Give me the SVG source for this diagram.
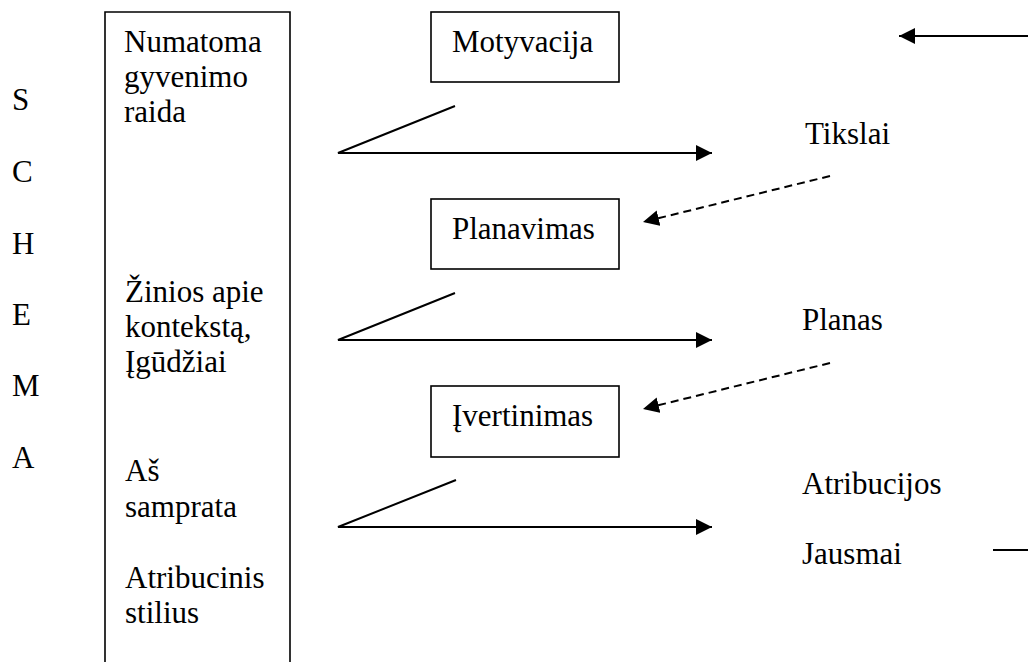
<svg xmlns="http://www.w3.org/2000/svg" width="1028" height="662" viewBox="0 0 1028 662">
<style>
.box{fill:#fff;stroke:#000;stroke-width:1.6}
.ln{fill:none;stroke:#000;stroke-width:2}
.dash{fill:none;stroke:#000;stroke-width:2;stroke-dasharray:8 5}
</style>
<defs>
<marker id="ah" markerUnits="userSpaceOnUse" markerWidth="18" markerHeight="16" refX="16" refY="8" orient="auto">
<path d="M0,0 L16,8 L0,16 Z" fill="#000"/>
</marker>
</defs>
<rect width="1028" height="662" fill="#fff"/>
<g id="schema">
<text x="12" y="110" font-family="Liberation Serif" font-size="31">S</text>
<text x="12" y="182" font-family="Liberation Serif" font-size="31">C</text>
<text x="12" y="254" font-family="Liberation Serif" font-size="31">H</text>
<text x="12" y="325" font-family="Liberation Serif" font-size="31">E</text>
<text x="12" y="396" font-family="Liberation Serif" font-size="31">M</text>
<text x="12" y="468" font-family="Liberation Serif" font-size="31">A</text>
</g>
<g id="left-column">
<path class="box" d="M105,670 V12 H290 V670"/>
<text x="124" y="52" font-family="Liberation Serif" font-size="31">Numatoma</text>
<text x="124" y="87" font-family="Liberation Serif" font-size="31">gyvenimo</text>
<text x="124" y="122" font-family="Liberation Serif" font-size="31">raida</text>
<text x="125" y="302" font-family="Liberation Serif" font-size="31">Žinios apie</text>
<text x="125" y="337" font-family="Liberation Serif" font-size="31">kontekstą,</text>
<text x="125" y="372" font-family="Liberation Serif" font-size="31">Įgūdžiai</text>
<text x="125" y="481" font-family="Liberation Serif" font-size="31">Aš</text>
<text x="125" y="517" font-family="Liberation Serif" font-size="31">samprata</text>
<text x="125" y="588" font-family="Liberation Serif" font-size="31">Atribucinis</text>
<text x="125" y="623" font-family="Liberation Serif" font-size="31">stilius</text>
</g>
<g id="motyvacija">
<rect class="box" x="431" y="12" width="188" height="70"/>
<text x="452" y="52" font-family="Liberation Serif" font-size="31">Motyvacija</text>
</g>
<g id="planavimas">
<rect class="box" x="431" y="199" width="188" height="70"/>
<text x="452" y="239" font-family="Liberation Serif" font-size="31">Planavimas</text>
</g>
<g id="ivertinimas">
<rect class="box" x="431" y="386" width="188" height="71"/>
<text x="452" y="426" font-family="Liberation Serif" font-size="31">Įvertinimas</text>
</g>
<g id="tikslai"><text x="805" y="144" font-family="Liberation Serif" font-size="31">Tikslai</text></g>
<g id="planas"><text x="802" y="330" font-family="Liberation Serif" font-size="31">Planas</text></g>
<g id="atribucijos"><text x="802" y="494" font-family="Liberation Serif" font-size="31">Atribucijos</text></g>
<g id="jausmai"><text x="802" y="564" font-family="Liberation Serif" font-size="31">Jausmai</text></g>
<g id="connectors">
<polyline class="ln" points="455,106 338,153 712,153" marker-end="url(#ah)"/>
<polyline class="ln" points="455,293 338,340 712,340" marker-end="url(#ah)"/>
<polyline class="ln" points="456,480 338,527 712,527" marker-end="url(#ah)"/>
<line class="ln" x1="1028" y1="36" x2="899" y2="36" marker-end="url(#ah)"/>
<line class="dash" x1="830" y1="176" x2="643" y2="222" marker-end="url(#ah)"/>
<line class="dash" x1="830" y1="363" x2="643" y2="409" marker-end="url(#ah)"/>
<line class="ln" x1="993" y1="550" x2="1028" y2="550"/>
</g>
</svg>
